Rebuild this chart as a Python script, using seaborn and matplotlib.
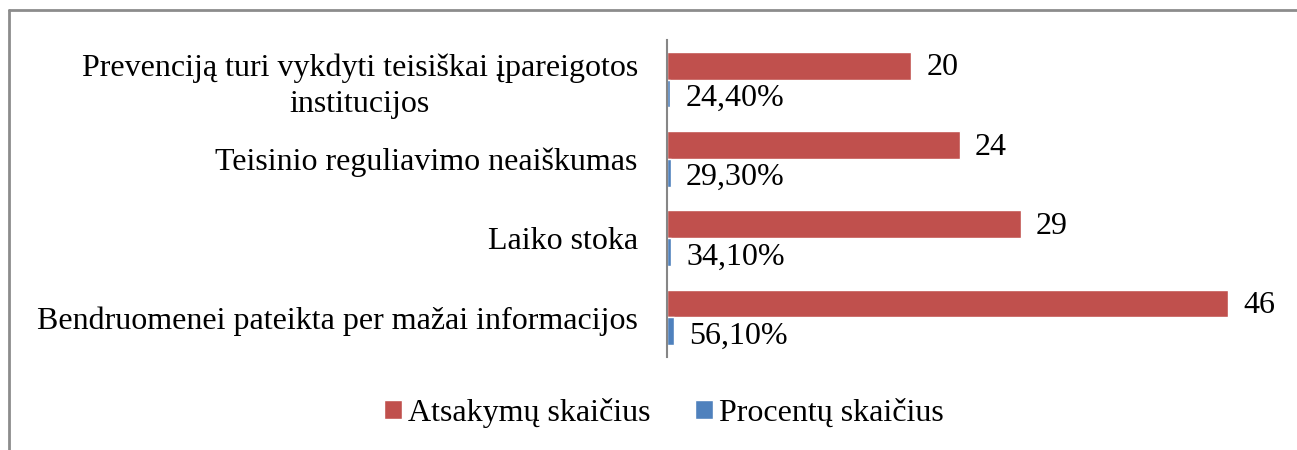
import matplotlib
matplotlib.use("Agg")
import matplotlib.pyplot as plt
import seaborn as sns
import pandas as pd
from matplotlib.lines import Line2D
from matplotlib.patches import Patch

categories = [
    "Prevenciją turi vykdyti teisiškai įpareigotos\ninstitucijos",
    "Teisinio reguliavimo neaiškumas",
    "Laiko stoka",
    "Bendruomenei pateikta per mažai informacijos",
]
series_names = ["Atsakymų skaičius", "Procentų skaičius"]
answers = [20, 24, 29, 46]
percents = [0.244, 0.293, 0.341, 0.561]
percent_labels = ["24,40%", "29,30%", "34,10%", "56,10%"]
colors = ["#C0504D", "#4F81BD"]

rows = []
for c, a, p in zip(categories, answers, percents):
    rows.append({"cat": c, "series": series_names[0], "value": a})
    rows.append({"cat": c, "series": series_names[1], "value": p})
df = pd.DataFrame(rows)

sns.set_theme(style="white")
plt.rcParams["font.family"] = ["Liberation Serif", "DejaVu Serif"]
plt.rcParams["text.color"] = "black"
plt.rcParams["ytick.color"] = "black"

fs = 23
fig = plt.figure(figsize=(12.97, 4.5), dpi=100)
ax = fig.add_axes([667 / 1297, 1 - 357 / 450, (1277 - 667) / 1297, 317 / 450])

sns.barplot(data=df, y="cat", x="value", hue="series", palette=colors,
            order=categories, hue_order=series_names, orient="h",
            width=0.7, saturation=1, legend=False, ax=ax)

ax.set_xlim(0, 50)
ax.set_ylim(3.5, -0.5)
ax.set_xlabel("")
ax.set_ylabel("")
ax.set_xticks([])
for s in ["top", "right", "bottom"]:
    ax.spines[s].set_visible(False)
ax.spines["left"].set_color("#868686")
ax.spines["left"].set_linewidth(1.5)
ax.tick_params(axis="y", length=0, pad=21, labelsize=fs, labelcolor="black")
for t in ax.get_yticklabels():
    t.set_horizontalalignment("right")
    t.set_multialignment("center")
    t.set_linespacing(1.3)

lab_red = ax.bar_label(ax.containers[0], labels=[str(v) for v in answers],
                       padding=11, fontsize=fs, color="black")
lab_blue = ax.bar_label(ax.containers[1], labels=percent_labels, padding=11,
                        fontsize=fs, color="black")
# nudge value labels slightly down (offset in points) to match the reference
for t in lab_red:
    t.xyann = (11, -1.5)
for t in lab_blue:
    t.xyann = (11, -3.5)

handles = [Patch(facecolor=colors[0]), Patch(facecolor=colors[1])]
fig.legend(handles, series_names, loc="center", bbox_to_anchor=(664 / 1297, 1 - 413 / 450),
           ncol=2, frameon=False, fontsize=fs, handlelength=0.55, handleheight=0.55,
           handletextpad=0.2, columnspacing=1.4)

# outer chart border (clipped at right and bottom in the reference)
fig.add_artist(Line2D([8.5 / 1297, 1.0], [1 - 10 / 450, 1 - 10 / 450],
                      transform=fig.transFigure, color="#8c8c8c", linewidth=2))
fig.add_artist(Line2D([8.5 / 1297, 8.5 / 1297], [1 - 10 / 450, 0.0],
                      transform=fig.transFigure, color="#8c8c8c", linewidth=2))

fig.savefig("out.png", dpi=100)
